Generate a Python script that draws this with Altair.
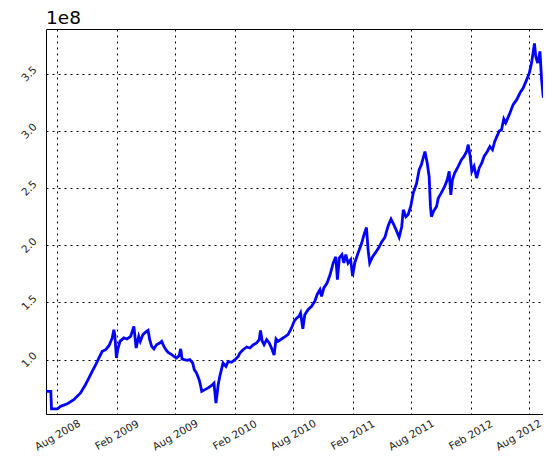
import altair as alt
import pandas as pd

dates = [
    "2008-06-26", "2008-07-12", "2008-07-14", "2008-08-01", "2008-08-11", "2008-09-01",
    "2008-09-21", "2008-10-12", "2008-10-27", "2008-11-07", "2008-11-17", "2008-11-28",
    "2008-12-08", "2008-12-18", "2008-12-29", "2009-01-08", "2009-01-18", "2009-01-23",
    "2009-01-26", "2009-01-31", "2009-02-04", "2009-02-11", "2009-02-23", "2009-03-05",
    "2009-03-16", "2009-03-26", "2009-04-02", "2009-04-10", "2009-04-15", "2009-04-23",
    "2009-05-04", "2009-05-09", "2009-05-14", "2009-05-20", "2009-05-27", "2009-06-04",
    "2009-06-14", "2009-06-20", "2009-06-27", "2009-07-03", "2009-07-10", "2009-07-21",
    "2009-07-28", "2009-08-05", "2009-08-13", "2009-08-18", "2009-08-22", "2009-08-29",
    "2009-09-07", "2009-09-15", "2009-09-24", "2009-09-29", "2009-10-06", "2009-10-14",
    "2009-10-19", "2009-10-22", "2009-11-01", "2009-11-11", "2009-11-21", "2009-11-29",
    "2009-12-05", "2009-12-09", "2009-12-12", "2009-12-17", "2009-12-22", "2009-12-27",
    "2010-01-05", "2010-01-12", "2010-01-22", "2010-02-02", "2010-02-12", "2010-02-17",
    "2010-02-27", "2010-03-10", "2010-03-20", "2010-03-31", "2010-04-10", "2010-04-18",
    "2010-04-22", "2010-04-27", "2010-05-03", "2010-05-11", "2010-05-19", "2010-05-26",
    "2010-06-03", "2010-06-09", "2010-06-15", "2010-06-26", "2010-07-06", "2010-07-16",
    "2010-07-27", "2010-08-04", "2010-08-11", "2010-08-19", "2010-08-24", "2010-08-31",
    "2010-09-06", "2010-09-16", "2010-09-27", "2010-10-07", "2010-10-14", "2010-10-23",
    "2010-10-28", "2010-11-04", "2010-11-14", "2010-11-23", "2010-12-03", "2010-12-11",
    "2010-12-16", "2010-12-22", "2010-12-30", "2011-01-05", "2011-01-11", "2011-01-18",
    "2011-01-26", "2011-02-01", "2011-02-08", "2011-02-18", "2011-03-01", "2011-03-09",
    "2011-03-16", "2011-03-21", "2011-03-26", "2011-04-04", "2011-04-14", "2011-04-24",
    "2011-05-02", "2011-05-12", "2011-05-22", "2011-05-31", "2011-06-07", "2011-06-15",
    "2011-06-25", "2011-07-03", "2011-07-08", "2011-07-16", "2011-07-23", "2011-07-31",
    "2011-08-08", "2011-08-18", "2011-08-26", "2011-09-02", "2011-09-13", "2011-09-20",
    "2011-09-26", "2011-09-30", "2011-10-03", "2011-10-10", "2011-10-19", "2011-10-24",
    "2011-11-03", "2011-11-13", "2011-11-21", "2011-11-27", "2011-12-02", "2011-12-07",
    "2011-12-14", "2011-12-25", "2012-01-04", "2012-01-12", "2012-01-20", "2012-01-25",
    "2012-01-31", "2012-02-05", "2012-02-12", "2012-02-20", "2012-02-28", "2012-03-07",
    "2012-03-14", "2012-03-24", "2012-04-01", "2012-04-09", "2012-04-16", "2012-04-30",
    "2012-05-07", "2012-05-14", "2012-05-20", "2012-05-31", "2012-06-12", "2012-06-23",
    "2012-07-03", "2012-07-13", "2012-07-24", "2012-08-01", "2012-08-08", "2012-08-17",
    "2012-08-21", "2012-08-27", "2012-09-03", "2012-09-08", "2012-09-13", "2012-09-21",
    "2012-09-29", "2012-10-05", "2012-10-12",
]

# values in units of 1e8
values = [
    0.723, 0.723, 0.569, 0.569, 0.592, 0.615,
    0.650, 0.709, 0.781, 0.840, 0.898, 0.956,
    1.015, 1.073, 1.087, 1.122, 1.190, 1.262,
    1.219, 1.015, 1.087, 1.160, 1.190, 1.181,
    1.204, 1.291, 1.102, 1.204, 1.160, 1.219,
    1.247, 1.256, 1.175, 1.116, 1.094, 1.131,
    1.146, 1.160, 1.116, 1.087, 1.064, 1.044,
    1.029, 1.015, 1.035, 1.094, 1.006, 1.000,
    0.994, 1.000, 0.971, 0.913, 0.883, 0.825,
    0.767, 0.723, 0.738, 0.753, 0.773, 0.796,
    0.621, 0.709, 0.781, 0.854, 0.913, 0.971,
    0.941, 0.985, 0.977, 1.000, 1.029, 1.058,
    1.087, 1.111, 1.102, 1.131, 1.146, 1.175,
    1.256, 1.165, 1.131, 1.175, 1.146, 1.102,
    1.040, 1.181, 1.160, 1.181, 1.200, 1.219,
    1.277, 1.335, 1.360, 1.378, 1.408, 1.270,
    1.393, 1.437, 1.466, 1.510, 1.568, 1.612,
    1.553, 1.627, 1.670, 1.740, 1.846, 1.900,
    1.700, 1.890, 1.918, 1.845, 1.918, 1.845,
    1.875, 1.730, 1.850, 1.932, 2.017, 2.100,
    2.155, 1.960, 1.845, 1.900, 1.940, 1.985,
    2.030, 2.070, 2.170, 2.230, 2.190, 2.140,
    2.070, 2.160, 2.310, 2.250, 2.270, 2.340,
    2.460, 2.540, 2.660, 2.705, 2.820, 2.720,
    2.600, 2.340, 2.250, 2.300, 2.340, 2.410,
    2.460, 2.515, 2.573, 2.646, 2.440, 2.573,
    2.631, 2.690, 2.748, 2.777, 2.820, 2.880,
    2.777, 2.646, 2.690, 2.588, 2.676, 2.720,
    2.777, 2.820, 2.864, 2.835, 2.908, 3.000,
    3.010, 3.104, 3.070, 3.142, 3.230, 3.273,
    3.331, 3.375, 3.448, 3.506, 3.593, 3.765,
    3.650, 3.593, 3.695, 3.450, 3.300, 3.290,
    3.395, 3.290, 3.350,
]

y_ticks = [1.0, 1.5, 2.0, 2.5, 3.0, 3.5]
x_tick_months = [(2008, 8), (2009, 2), (2009, 8), (2010, 2), (2010, 8),
                 (2011, 2), (2011, 8), (2012, 2), (2012, 8)]
y_domain = [0.525, 3.891]
x_start = (2008, 6, 27, 0)
x_end = (2012, 9, 12, 10)
offset_label = "1e8"

df = pd.DataFrame({"date": dates, "value": values})

FONT = "DejaVu Sans"
x_scale = alt.Scale(
    type="utc",
    domain=[alt.DateTime(year=x_start[0], month=x_start[1], date=x_start[2],
                         hours=x_start[3], utc=True),
            alt.DateTime(year=x_end[0], month=x_end[1], date=x_end[2],
                         hours=x_end[3], utc=True)],
    nice=False,
)
y_scale = alt.Scale(domain=y_domain, nice=False, zero=False)
tick_vals = [alt.DateTime(year=y, month=m, date=1, utc=True) for (y, m) in x_tick_months]

grid_style = dict(grid=True, gridColor="black", gridDash=[2, 4], gridWidth=1, gridOpacity=1)

# keep the last (edge) label inside the drawing
last_label_shift = {"condition": {"test": "datum.value > utc(2012, 5, 1)", "value": -11},
                    "value": 0}

x_axis = alt.Axis(
    values=tick_vals, format="%b %Y", labelAngle=330, labelAlign="center",
    labelBaseline="middle", labelPadding=21, ticks=False, labelOffset=last_label_shift,
    labelOverlap=False, labelFlush=False, labelFont=FONT, labelFontSize=10.5,
    labelColor="#222222", domainColor="black", domainWidth=1, title=None,
    **grid_style,
)
y_axis = alt.Axis(
    values=y_ticks, format=".1f", labelAngle=315, labelAlign="center",
    labelBaseline="middle", labelPadding=17, ticks=False,
    labelOverlap=False, labelFlush=False, labelFont=FONT, labelFontSize=10.5,
    labelColor="#222222", domainColor="black", domainWidth=1, title=None,
    **grid_style,
)
top_axis = alt.Axis(
    orient="top", labels=False, ticks=False, grid=False, domain=True,
    domainColor="black", domainWidth=1, title=None,
)

line = alt.Chart(df).mark_line(color="#0000ff", strokeWidth=2.8, clip=True).encode(
    x=alt.X("date:T", scale=x_scale, axis=x_axis),
    y=alt.Y("value:Q", scale=y_scale, axis=y_axis),
)
top = alt.Chart(df).mark_line(opacity=0, clip=True).encode(
    x=alt.X("date:T", scale=x_scale, axis=top_axis),
    y=alt.Y("value:Q", scale=y_scale, axis=y_axis),
)

chart = alt.layer(line, top).resolve_axis(x="independent").properties(
    width=497,
    height=385,
    padding={"left": 38, "top": 21, "right": 0, "bottom": 40},
    autosize=alt.AutoSizeParams(type="none"),
    title=alt.TitleParams(offset_label, anchor="start", frame="group", fontSize=18.5,
                          font=FONT, fontWeight="normal", offset=2, color="black"),
).configure_view(stroke=None)

chart.save("out.html", embed_options={"renderer": "svg", "actions": False})
